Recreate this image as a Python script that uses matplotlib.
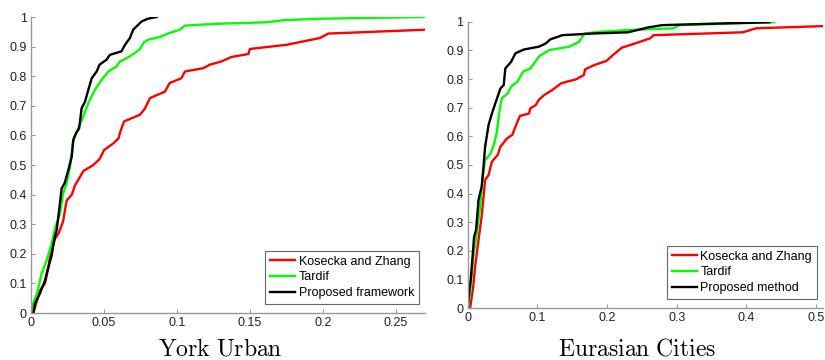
import numpy as np
import matplotlib.pyplot as plt

plt.rcParams['font.family'] = ['Liberation Sans', 'DejaVu Sans']
plt.rcParams['mathtext.fontset'] = 'cm'

# ---- York Urban: cumulative curves (x = error, y = fraction) ----
york_kz_x = [0.0016, 0.0062, 0.0096, 0.0119, 0.013, 0.0164, 0.019, 0.022, 0.0244, 0.028, 0.030, 0.0336,
             0.036, 0.0427, 0.047, 0.050, 0.0564, 0.060, 0.061, 0.0637, 0.0747, 0.078, 0.0815, 0.0918,
             0.095, 0.103, 0.1055, 0.118, 0.1226, 0.1306, 0.1374, 0.149, 0.150, 0.175, 0.198, 0.2037, 0.27]
york_kz_y = [0.0, 0.077, 0.10, 0.156, 0.19, 0.25, 0.27, 0.31, 0.38, 0.40, 0.43, 0.46,
             0.48, 0.50, 0.52, 0.55, 0.573, 0.59, 0.61, 0.647, 0.67, 0.69, 0.726, 0.748,
             0.777, 0.793, 0.816, 0.827, 0.839, 0.85, 0.865, 0.875, 0.892, 0.906, 0.929, 0.944, 0.957]

york_td_x = [0.0, 0.001, 0.004, 0.0073, 0.0107, 0.0142, 0.0164, 0.0199, 0.022, 0.0244, 0.0267, 0.029,
             0.0324, 0.0358, 0.0393, 0.0438, 0.0484, 0.053, 0.0587, 0.061, 0.0655, 0.0712, 0.0747,
             0.077, 0.080, 0.088, 0.095, 0.102, 0.1055, 0.127, 0.161, 0.173, 0.196, 0.27]
york_td_y = [0.0, 0.026, 0.065, 0.133, 0.178, 0.235, 0.286, 0.336, 0.404, 0.438, 0.494, 0.585,
             0.624, 0.664, 0.709, 0.754, 0.788, 0.816, 0.833, 0.85, 0.861, 0.878, 0.892,
             0.912, 0.923, 0.932, 0.946, 0.957, 0.971, 0.977, 0.982, 0.989, 0.994, 1.0]

york_pr_x = [0.0016, 0.0027, 0.006, 0.0096, 0.012, 0.0142, 0.0158, 0.0176, 0.019, 0.021, 0.023, 0.0256,
             0.0279, 0.029, 0.0308, 0.033, 0.0347, 0.037, 0.0393, 0.0416, 0.045, 0.047, 0.0518,
             0.054, 0.062, 0.0644, 0.0678, 0.070, 0.0758, 0.080, 0.086]
york_pr_y = [0.0, 0.032, 0.065, 0.11, 0.156, 0.195, 0.246, 0.28, 0.336, 0.421, 0.438, 0.483,
             0.528, 0.585, 0.607, 0.624, 0.692, 0.714, 0.754, 0.793, 0.816, 0.839, 0.856,
             0.872, 0.884, 0.906, 0.929, 0.957, 0.985, 0.994, 1.0]

# ---- Eurasian Cities ----
eur_kz_x = [0.0034, 0.008, 0.0106, 0.0155, 0.020, 0.025, 0.030, 0.0348, 0.043, 0.047, 0.0565, 0.064,
            0.0686, 0.075, 0.088, 0.090, 0.0976, 0.102, 0.1097, 0.1217, 0.134, 0.1556, 0.1667, 0.1686,
            0.182, 0.199, 0.2087, 0.221, 0.240, 0.262, 0.2667, 0.395, 0.414, 0.515]
eur_kz_y = [0.0, 0.076, 0.145, 0.238, 0.32, 0.448, 0.465, 0.512, 0.535, 0.564, 0.593, 0.605,
            0.634, 0.671, 0.68, 0.698, 0.709, 0.727, 0.744, 0.762, 0.785, 0.799, 0.814, 0.834,
            0.849, 0.863, 0.884, 0.909, 0.924, 0.942, 0.953, 0.963, 0.977, 0.985]

eur_td_x = [0.0, 0.0034, 0.008, 0.013, 0.0179, 0.0217, 0.025, 0.033, 0.038, 0.042, 0.045, 0.049,
            0.0575, 0.062, 0.071, 0.0797, 0.090, 0.102, 0.1097, 0.117, 0.146, 0.160, 0.1676,
            0.192, 0.230, 0.2957, 0.303, 0.414, 0.44]
eur_td_y = [0.0, 0.052, 0.18, 0.26, 0.355, 0.46, 0.517, 0.54, 0.575, 0.616, 0.68, 0.733,
            0.75, 0.773, 0.79, 0.826, 0.837, 0.878, 0.89, 0.901, 0.913, 0.93, 0.959,
            0.965, 0.971, 0.977, 0.988, 0.9965, 0.998]

eur_pr_x = [0.0, 0.0024, 0.0043, 0.007, 0.0092, 0.012, 0.0155, 0.020, 0.0227, 0.025, 0.030, 0.0348,
            0.0396, 0.047, 0.0517, 0.054, 0.0623, 0.0686, 0.0807, 0.1024, 0.112, 0.1184, 0.136,
            0.182, 0.230, 0.259, 0.279, 0.366, 0.433]
eur_pr_y = [0.0, 0.064, 0.099, 0.18, 0.25, 0.273, 0.378, 0.424, 0.494, 0.564, 0.64, 0.68,
            0.715, 0.767, 0.779, 0.837, 0.86, 0.89, 0.903, 0.913, 0.924, 0.938, 0.953,
            0.959, 0.963, 0.98, 0.988, 0.994, 0.998]

york_xticks = [0, 0.05, 0.1, 0.15, 0.2, 0.25]
eur_xticks = [0, 0.1, 0.2, 0.3, 0.4, 0.5]
yticks = [0, 0.1, 0.2, 0.3, 0.4, 0.5, 0.6, 0.7, 0.8, 0.9, 1]

colors = ['#ff0000', '#00ff00', '#000000']


def fmt(v):
    return '0' if v == 0 else ('1' if v == 1 else ('%g' % v))


def style_axes(ax, xticks, xmax):
    ax.set_xlim(0, xmax)
    ax.set_ylim(0, 1)
    ax.set_xticks(xticks)
    ax.set_xticklabels([fmt(v) for v in xticks])
    ax.set_yticks(yticks)
    ax.set_yticklabels([fmt(v) for v in yticks])
    for s in ['top', 'right']:
        ax.spines[s].set_visible(False)
    for s in ['left', 'bottom']:
        ax.spines[s].set_color('#999999')
        ax.spines[s].set_linewidth(1.0)
    ax.tick_params(direction='in', length=3, color='#999999', labelsize=9, pad=3, labelcolor='#222222')


fig = plt.figure(figsize=(8.25, 3.6), dpi=100)

ax1 = fig.add_axes([31 / 825, 1 - 313 / 360, 394 / 825, 296 / 360])
ax1.plot(york_kz_x, york_kz_y, color=colors[0], lw=1.7, label='Kosecka and Zhang')
ax1.plot(york_td_x, york_td_y, color=colors[1], lw=1.7, label='Tardif')
ax1.plot(york_pr_x, york_pr_y, color=colors[2], lw=1.7, label='Proposed framework')
style_axes(ax1, york_xticks, 0.27)
leg1 = ax1.legend(loc='lower right', bbox_to_anchor=(0.985, 0.03), fontsize=9, fancybox=False,
                  edgecolor='#666666', framealpha=1, borderaxespad=0, handlelength=2.0,
                  labelspacing=0.3, handletextpad=0.3, borderpad=0.4)
leg1.get_frame().set_linewidth(0.8)

ax2 = fig.add_axes([467.7 / 825, 1 - 308.3 / 360, 355.3 / 825, 286.6 / 360])
ax2.plot(eur_kz_x, eur_kz_y, color=colors[0], lw=1.7, label='Kosecka and Zhang')
ax2.plot(eur_td_x, eur_td_y, color=colors[1], lw=1.7, label='Tardif')
ax2.plot(eur_pr_x, eur_pr_y, color=colors[2], lw=1.7, label='Proposed method')
style_axes(ax2, eur_xticks, 0.51)
leg2 = ax2.legend(loc='lower right', bbox_to_anchor=(0.983, 0.032), fontsize=9, fancybox=False,
                  edgecolor='#666666', framealpha=1, borderaxespad=0, handlelength=2.0,
                  labelspacing=0.3, handletextpad=0.3, borderpad=0.4)
leg2.get_frame().set_linewidth(0.8)

fig.text(220 / 825, 1 - 349 / 360, r'$\mathrm{York\ Urban}$', ha='center', va='center', fontsize=17)
fig.text(637 / 825, 1 - 349 / 360, r'$\mathrm{Eurasian\ Cities}$', ha='center', va='center', fontsize=17)

fig.savefig('out.png', dpi=100)
